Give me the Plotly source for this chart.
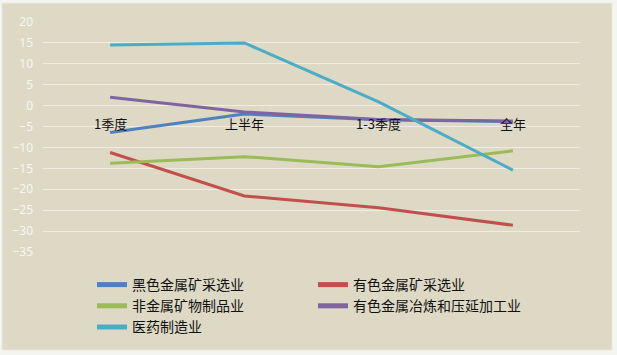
import plotly.graph_objects as go

categories = ["1季度", "上半年", "1-3季度", "全年"]
series_names = ["黑色金属矿采选业", "有色金属矿采选业", "非金属矿物制品业", "有色金属冶炼和压延加工业", "医药制造业"]
black_metal = [-6.4, -2.0, -3.4, -3.8]
nonferrous_mining = [-11.2, -21.6, -24.4, -28.6]
nonmetal_products = [-13.8, -12.2, -14.6, -10.8]
nonferrous_smelting = [2.0, -1.5, -3.3, -3.7]
pharma = [14.5, 15.0, 0.9, -15.4]
colors = ["#4F81BD", "#C0504D", "#9BBB59", "#8064A2", "#4BACC6"]
y_ticks = list(range(-35, 25, 5))

W, H = 617, 355
L, R, T, B = 43, 37, 22, 103
pw, ph = W - L - R, H - T - B

fig = go.Figure()
for name, vals, c in zip(series_names,
                         [black_metal, nonferrous_mining, nonmetal_products, nonferrous_smelting, pharma],
                         colors):
    fig.add_trace(go.Scatter(x=categories, y=vals, name=name, mode="lines",
                             line=dict(color=c, width=3)))

for cat in categories:
    fig.add_annotation(x=cat, y=0, xref="x", yref="y", text=cat, showarrow=False,
                       yanchor="top", yshift=-6,
                       font=dict(family="Noto Sans CJK SC", size=13, color="#111111"))

def px_x(p):
    return (p - L) / pw

def px_y(p):
    return (H - B - p) / ph

fig.add_shape(type="rect", xref="paper", yref="paper",
              x0=px_x(2), x1=px_x(612), y0=px_y(350), y1=px_y(3),
              fillcolor="#DDD9C4", line=dict(color="#E9E7DE", width=1), layer="below")

fig.update_layout(
    width=W, height=H,
    margin=dict(l=L, r=R, t=T, b=B, autoexpand=False),
    paper_bgcolor="#F4F4F0",
    plot_bgcolor="rgba(0,0,0,0)",
    showlegend=True,
    legend=dict(orientation="h", x=px_x(92), y=px_y(269), xanchor="left", yanchor="top",
                entrywidth=176, entrywidthmode="pixels", tracegroupgap=0,
                font=dict(family="Noto Sans CJK SC", size=14, color="#111111"),
                bgcolor="rgba(0,0,0,0)", itemsizing="constant"),
    xaxis=dict(showticklabels=False, showgrid=False, zeroline=False, showline=False,
               range=[-0.5, 3.5], fixedrange=True),
    yaxis=dict(range=[-35, 20], tickvals=y_ticks, showgrid=True, gridcolor="#EEECE3",
               gridwidth=1, zeroline=False, showline=False, ticks="",
               tickfont=dict(family="Noto Sans", size=12, color="#F7F7F2"),
               ticklabelstandoff=9),
)

fig.write_html("out.html", config={"displayModeBar": False},
               post_script="document.body.style.margin='0';")
